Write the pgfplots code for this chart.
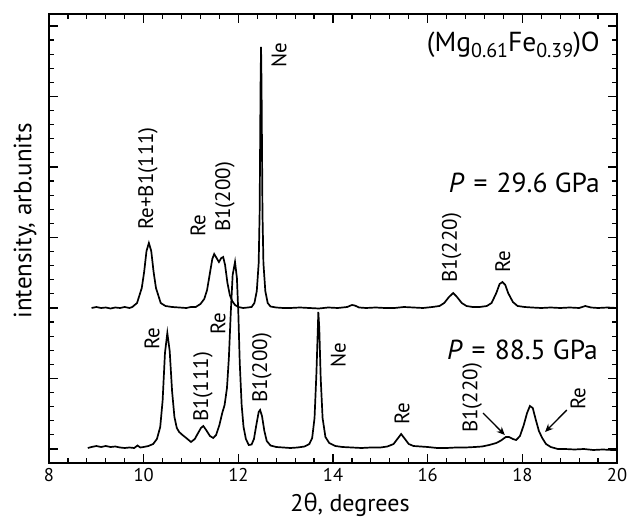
\documentclass[border=0pt]{standalone}
\usepackage{fontspec}
\setmainfont{PT Sans}
\newfontfamily\grk{Open Sans}
\usepackage{pgfplots}
\pgfplotsset{compat=1.18}
\usetikzlibrary{arrows.meta}
\newcommand{\lbl}{\fontsize{21}{23}\selectfont}
\newcommand{\ann}{\fontsize{27.5}{30}\selectfont}
\newcommand{\sub}[1]{\raisebox{-0.22em}{\fontsize{20}{21}\selectfont #1}}
\begin{document}
\begin{tikzpicture}
\begin{axis}[
  scale only axis, width=568pt, height=449pt,
  xmin=8, xmax=20, ymin=0, ymax=449,
  xtick={8,10,...,20}, minor x tick num=4,
  ytick={14,84.5,155,225.5,296,366.5,437}, minor y tick num=4,
  yticklabels={},
  tick align=inside,
  major tick length=9pt, minor tick length=5pt,
  every tick/.style={black, line width=1.2pt},
  axis line style={line width=1.5pt},
  /pgf/number format/assume math mode=true,
  tick label style={font=\fontsize{18.5}{20}\selectfont},
  xticklabel style={yshift=-2pt},
  xlabel={2{\grk θ}, degrees},
  ylabel={intensity, arb.units},
  xlabel style={font=\fontsize{24}{26}\selectfont, at={(axis description cs:0.53,-0.0935)}, anchor=center},
  ylabel style={font=\fontsize{25}{28}\selectfont, at={(axis description cs:-0.042,0.539)}, anchor=center, rotate=0},
  clip=false,
]
\addplot[black, line width=1.7pt] coordinates {
(8.90,155) (9.00,156) (9.10,155) (9.20,155.5) (9.30,154.5) (9.40,155.5) (9.50,155) (9.60,156) (9.70,155)
(9.76,156) (9.86,160) (9.96,175) (10.01,191) (10.06,212) (10.11,220) (10.16,212) (10.21,191) (10.26,175)
(10.36,160) (10.46,157) (10.60,156) (10.75,155.5) (10.90,155) (11.00,156) (11.10,156) (11.20,159)
(11.28,164) (11.34,173) (11.40,190) (11.45,204) (11.49,209) (11.54,205) (11.59,201) (11.64,205)
(11.68,206) (11.72,198) (11.77,180) (11.82,168) (11.87,162) (11.93,158) (12.00,156) (12.10,155)
(12.20,155.5) (12.28,156) (12.34,160) (12.39,172) (12.43,200) (12.45,250) (12.47,380) (12.48,416)
(12.49,380) (12.51,250) (12.53,200) (12.57,172) (12.62,160) (12.68,156.5) (12.80,155.5) (12.95,155)
(13.10,155) (13.30,155.5) (13.50,155) (13.70,154.5) (13.90,155.5) (14.10,155) (14.30,156) (14.40,158)
(14.46,157.5) (14.55,155.5) (14.70,155) (14.90,155.5) (15.10,155) (15.30,155) (15.50,156) (15.70,155.5)
(15.90,155) (16.10,156) (16.25,157) (16.35,160) (16.45,166) (16.54,170) (16.62,166) (16.72,160)
(16.82,157) (16.95,156) (17.10,156) (17.25,157) (17.35,160) (17.45,170) (17.52,179) (17.58,181)
(17.64,178) (17.70,170) (17.80,161) (17.90,157) (18.05,156) (18.20,155.5) (18.40,155) (18.60,155.5)
(18.80,155) (19.00,155.5) (19.20,155) (19.33,157) (19.45,155.5) (19.60,155) (19.80,155.5) (20.00,155)
};
\addplot[black, line width=1.7pt] coordinates {
(8.82,15) (8.90,16) (9.00,17) (9.10,16) (9.20,17) (9.30,16) (9.40,16.5) (9.50,15.5) (9.60,15)
(9.70,15.5) (9.80,15) (9.87,17.5) (9.93,15.5) (10.00,16) (10.10,17) (10.20,19) (10.28,24) (10.35,36)
(10.40,62) (10.45,110) (10.50,130) (10.55,112) (10.60,72) (10.65,46) (10.70,35) (10.75,31) (10.82,28)
(10.90,25) (11.00,21) (11.08,24) (11.15,30) (11.21,35) (11.26,37) (11.32,33) (11.40,27) (11.47,25)
(11.53,28) (11.60,38) (11.66,50) (11.71,58) (11.76,75) (11.80,105) (11.84,150) (11.88,188) (11.93,201)
(11.97,185) (12.00,150) (12.03,100) (12.07,58) (12.11,36) (12.16,24) (12.22,18) (12.28,18.5) (12.33,24)
(12.38,38) (12.43,51) (12.46,53) (12.50,47) (12.55,32) (12.60,22) (12.68,17.5) (12.80,16) (12.95,15.5)
(13.10,15) (13.25,15.5) (13.40,16.5) (13.50,19) (13.56,25) (13.61,45) (13.65,90) (13.68,135) (13.69,151)
(13.71,135) (13.74,85) (13.78,45) (13.84,26) (13.92,20) (14.05,17) (14.20,16) (14.40,15.5) (14.60,15)
(14.80,15.5) (15.00,15.5) (15.15,16.5) (15.28,19) (15.36,24) (15.44,29) (15.52,24) (15.60,19) (15.70,17)
(15.85,16.5) (16.00,16) (16.20,15) (16.40,15) (16.60,15.5) (16.80,15.5) (17.00,16) (17.15,16.5)
(17.30,18) (17.45,20) (17.55,22.5) (17.65,26) (17.72,26) (17.80,24) (17.87,23) (17.95,27) (18.03,38)
(18.10,50) (18.16,57) (18.22,55) (18.28,44) (18.35,32) (18.42,25) (18.50,19) (18.60,16) (18.75,14)
(18.90,14) (19.10,13.5) (19.30,14) (19.50,13) (19.70,13.5) (19.90,13) (20.00,13)
};
% top labels
\node[rotate=90, anchor=west, inner sep=0pt, font=\lbl] at (axis cs:10.09,233) {Re+B1(111)};
\node[rotate=90, anchor=west, inner sep=0pt, font=\lbl] at (axis cs:11.15,226) {Re};
\node[rotate=90, anchor=west, inner sep=0pt, font=\lbl] at (axis cs:11.72,231) {B1(200)};
\node[rotate=90, anchor=west, inner sep=0pt, font=\lbl] at (axis cs:12.86,395) {Ne};
\node[rotate=90, anchor=west, inner sep=0pt, font=\lbl] at (axis cs:16.51,180) {B1(220)};
\node[rotate=90, anchor=west, inner sep=0pt, font=\lbl] at (axis cs:17.59,190) {Re};
% bottom labels
\node[rotate=90, anchor=west, inner sep=0pt, font=\lbl] at (axis cs:10.18,113) {Re};
\node[rotate=90, anchor=west, inner sep=0pt, font=\lbl] at (axis cs:11.25,41) {B1(111)};
\node[rotate=90, anchor=west, inner sep=0pt, font=\lbl] at (axis cs:11.57,128) {Re};
\node[rotate=90, anchor=west, inner sep=0pt, font=\lbl] at (axis cs:12.50,60) {B1(200)};
\node[rotate=90, anchor=west, inner sep=0pt, font=\lbl] at (axis cs:14.11,95) {Ne};
\node[rotate=90, anchor=west, inner sep=0pt, font=\lbl] at (axis cs:15.46,38) {Re};
\node[rotate=90, anchor=west, inner sep=0pt, font=\lbl] at (axis cs:16.94,30) {B1(220)};
\node[rotate=90, anchor=west, inner sep=0pt, font=\lbl] at (axis cs:19.18,53) {Re};
\draw[-{Stealth[length=8pt,width=7pt]}, line width=1.3pt] (axis cs:17.17,50) -- (axis cs:17.63,28);
\draw[-{Stealth[length=8pt,width=7pt]}, line width=1.3pt] (axis cs:18.94,53) -- (axis cs:18.48,31);
% annotations
\node[anchor=east, inner sep=0pt, font=\ann] at (axis cs:19.64,418) {(Mg\sub{0.61}Fe\sub{0.39})O};
\node[anchor=east, inner sep=0pt, font=\ann] at (axis cs:19.64,280) {\textit{P}\,\,=\,\,29.6 GPa};
\node[anchor=east, inner sep=0pt, font=\ann] at (axis cs:19.60,113) {\textit{P}\,\,=\,\,88.5 GPa};
\coordinate (SW) at (rel axis cs:0,0);
\coordinate (NE) at (rel axis cs:1,1);
\end{axis}
\pgfresetboundingbox
\path ([shift={(-49pt,-61pt)}]SW) rectangle ([shift={(15pt,14pt)}]NE);
\end{tikzpicture}
\end{document}
